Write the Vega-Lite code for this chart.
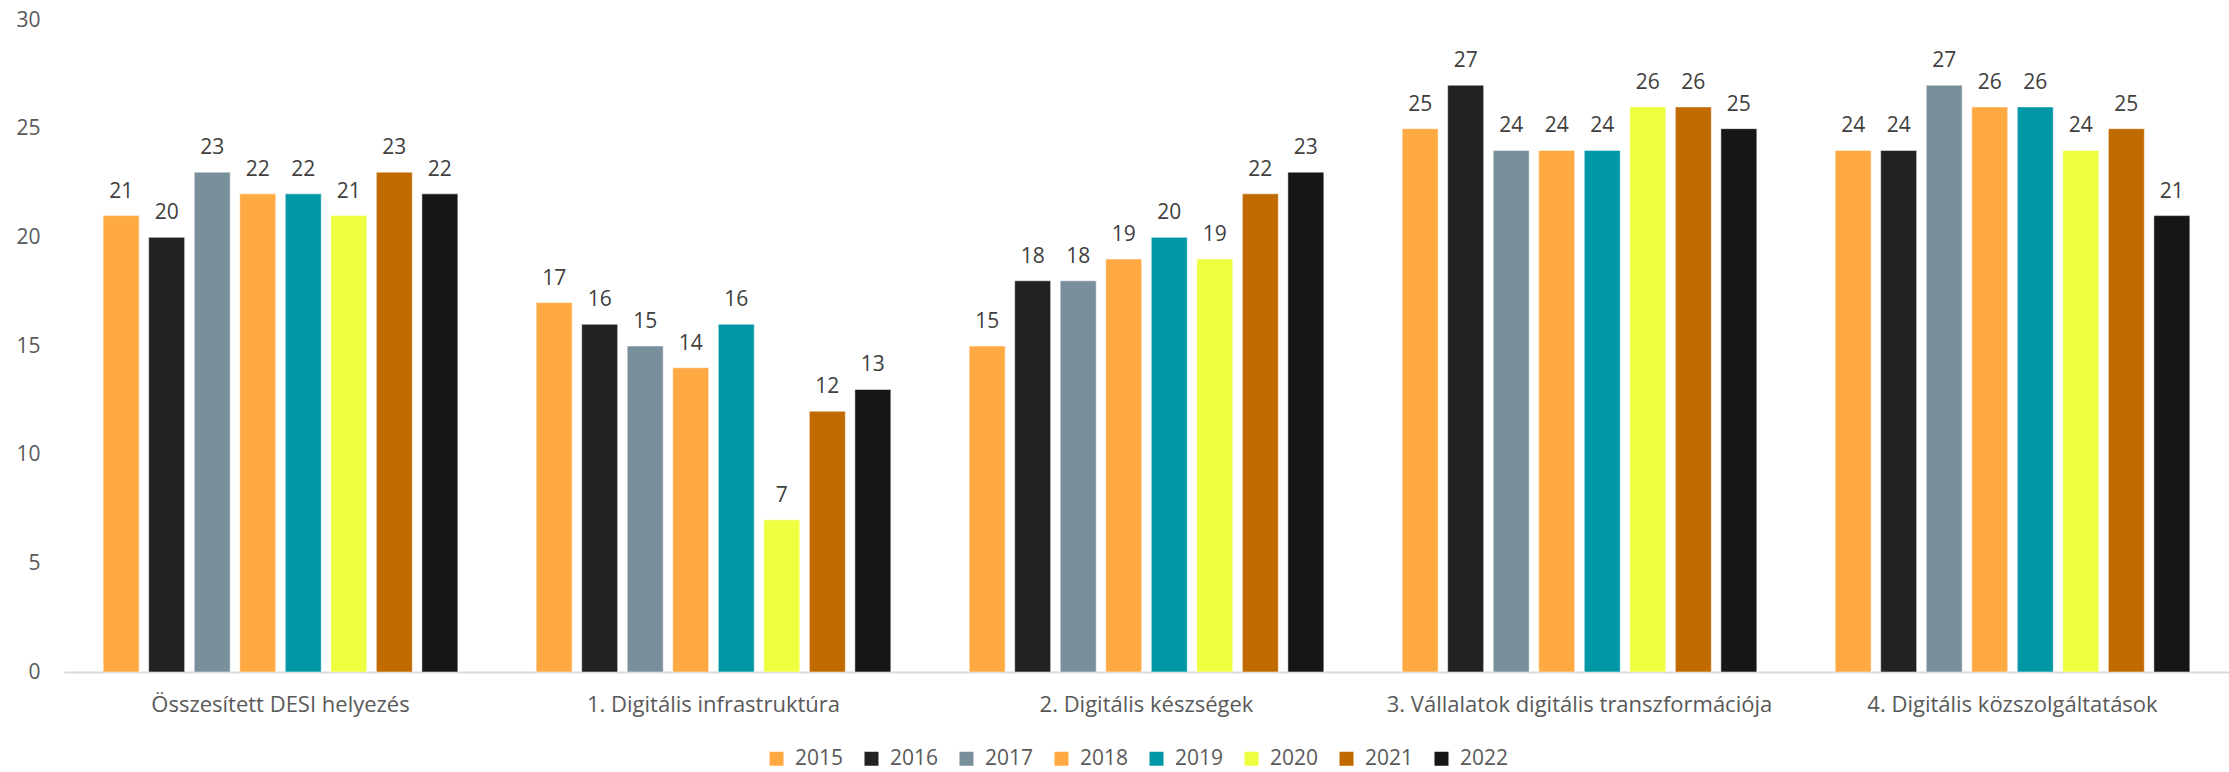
{
  "$schema": "https://vega.github.io/schema/vega-lite/v6.json",
  "width": 2165,
  "height": 652,
  "autosize": {"type": "none"},
  "padding": {"left": 64, "top": 20, "right": 0, "bottom": 100},
  "background": "white",
  "config": {
    "view": {"stroke": null},
    "font": "Open Sans"
  },
  "data": {
    "values": [
      {"cat": "Összesített DESI helyezés", "year": "2015", "v": 21},
      {"cat": "Összesített DESI helyezés", "year": "2016", "v": 20},
      {"cat": "Összesített DESI helyezés", "year": "2017", "v": 23},
      {"cat": "Összesített DESI helyezés", "year": "2018", "v": 22},
      {"cat": "Összesített DESI helyezés", "year": "2019", "v": 22},
      {"cat": "Összesített DESI helyezés", "year": "2020", "v": 21},
      {"cat": "Összesített DESI helyezés", "year": "2021", "v": 23},
      {"cat": "Összesített DESI helyezés", "year": "2022", "v": 22},
      {"cat": "1. Digitális infrastruktúra", "year": "2015", "v": 17},
      {"cat": "1. Digitális infrastruktúra", "year": "2016", "v": 16},
      {"cat": "1. Digitális infrastruktúra", "year": "2017", "v": 15},
      {"cat": "1. Digitális infrastruktúra", "year": "2018", "v": 14},
      {"cat": "1. Digitális infrastruktúra", "year": "2019", "v": 16},
      {"cat": "1. Digitális infrastruktúra", "year": "2020", "v": 7},
      {"cat": "1. Digitális infrastruktúra", "year": "2021", "v": 12},
      {"cat": "1. Digitális infrastruktúra", "year": "2022", "v": 13},
      {"cat": "2. Digitális készségek", "year": "2015", "v": 15},
      {"cat": "2. Digitális készségek", "year": "2016", "v": 18},
      {"cat": "2. Digitális készségek", "year": "2017", "v": 18},
      {"cat": "2. Digitális készségek", "year": "2018", "v": 19},
      {"cat": "2. Digitális készségek", "year": "2019", "v": 20},
      {"cat": "2. Digitális készségek", "year": "2020", "v": 19},
      {"cat": "2. Digitális készségek", "year": "2021", "v": 22},
      {"cat": "2. Digitális készségek", "year": "2022", "v": 23},
      {"cat": "3. Vállalatok digitális transzformációja", "year": "2015", "v": 25},
      {"cat": "3. Vállalatok digitális transzformációja", "year": "2016", "v": 27},
      {"cat": "3. Vállalatok digitális transzformációja", "year": "2017", "v": 24},
      {"cat": "3. Vállalatok digitális transzformációja", "year": "2018", "v": 24},
      {"cat": "3. Vállalatok digitális transzformációja", "year": "2019", "v": 24},
      {"cat": "3. Vállalatok digitális transzformációja", "year": "2020", "v": 26},
      {"cat": "3. Vállalatok digitális transzformációja", "year": "2021", "v": 26},
      {"cat": "3. Vállalatok digitális transzformációja", "year": "2022", "v": 25},
      {"cat": "4. Digitális közszolgáltatások", "year": "2015", "v": 24},
      {"cat": "4. Digitális közszolgáltatások", "year": "2016", "v": 24},
      {"cat": "4. Digitális közszolgáltatások", "year": "2017", "v": 27},
      {"cat": "4. Digitális közszolgáltatások", "year": "2018", "v": 26},
      {"cat": "4. Digitális közszolgáltatások", "year": "2019", "v": 26},
      {"cat": "4. Digitális közszolgáltatások", "year": "2020", "v": 24},
      {"cat": "4. Digitális közszolgáltatások", "year": "2021", "v": 25},
      {"cat": "4. Digitális közszolgáltatások", "year": "2022", "v": 21}
    ]
  },
  "encoding": {
    "x": {
      "field": "cat", "type": "nominal", "sort": null,
      "scale": {"paddingInner": 0, "paddingOuter": 0},
      "axis": {
        "title": null, "labelAngle": 0, "ticks": false, "labelLimit": 0,
        "domainColor": "#d9d9d9", "domainWidth": 2,
        "labelFontSize": 22, "labelColor": "#595959", "labelPadding": 22
      }
    },
    "xOffset": {
      "field": "year", "type": "nominal", "sort": null,
      "scale": {"paddingInner": 0.21, "paddingOuter": 0.86}
    },
    "y": {
      "field": "v", "type": "quantitative",
      "scale": {"domain": [0, 30], "nice": false},
      "axis": {
        "title": null, "values": [0, 5, 10, 15, 20, 25, 30], "grid": false,
        "domain": false, "ticks": false,
        "labelFontSize": 21, "labelColor": "#595959", "labelPadding": 24
      }
    }
  },
  "layer": [
    {
      "mark": {"type": "bar", "stroke": "#ffffff", "strokeOpacity": 0.5, "strokeWidth": 1},
      "encoding": {
        "color": {
          "field": "year", "type": "nominal", "sort": null,
          "scale": {
            "domain": ["2015", "2016", "2017", "2018", "2019", "2020", "2021", "2022"],
            "range": ["#FFA943", "#222222", "#798F9B", "#FFA943", "#0098A6", "#EDFF3F", "#C06A00", "#161616"]
          },
          "legend": {
            "title": null, "orient": "none", "direction": "horizontal",
            "legendX": 702, "legendY": 728,
            "symbolType": "square", "symbolSize": 196, "symbolStrokeWidth": 0,
            "labelFontSize": 21, "labelColor": "#595959",
            "columnPadding": 17, "labelOffset": 8
          }
        }
      }
    },
    {
      "mark": {"type": "text", "baseline": "bottom", "dy": -14, "fontSize": 21, "color": "#404040"},
      "encoding": {"text": {"field": "v", "type": "quantitative"}}
    }
  ]
}
